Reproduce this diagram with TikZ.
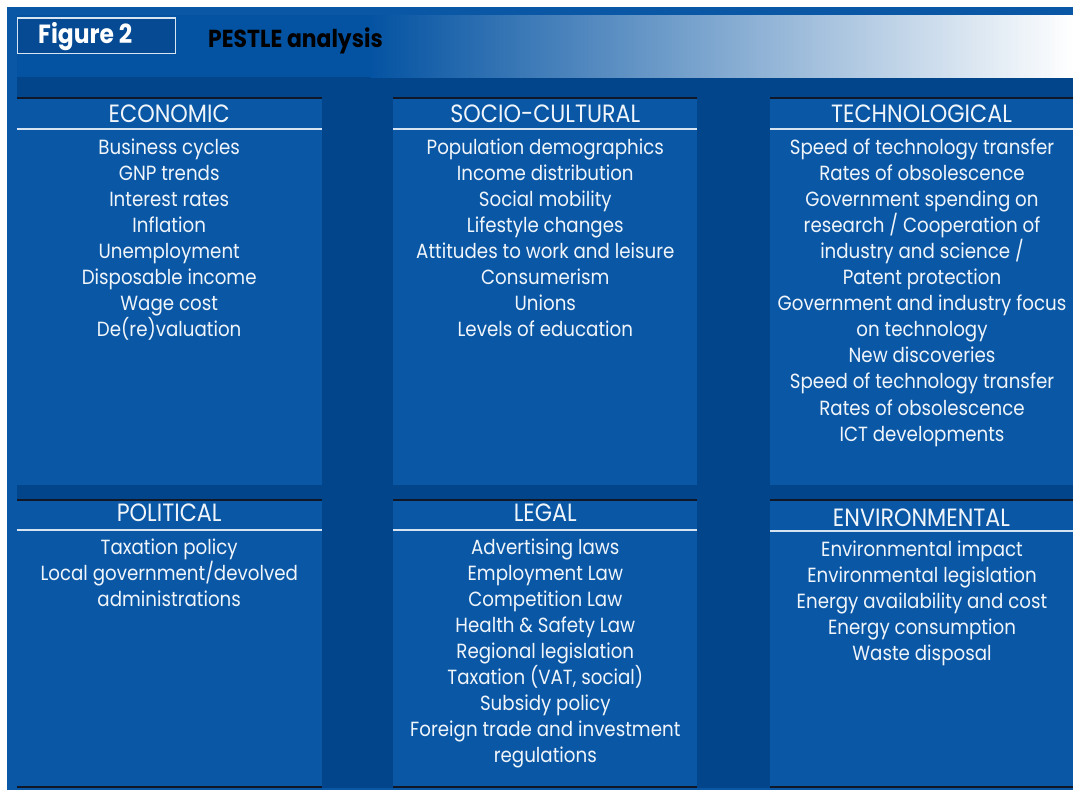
\documentclass[tikz,border=0pt]{standalone}
\usepackage{fontspec}
\newfontfamily\pestfont[FakeStretch=0.89]{Poppins}
\definecolor{frameblue}{RGB}{10,87,165}
\definecolor{bandblue}{RGB}{4,83,162}
\definecolor{gapblue}{RGB}{3,69,138}
\definecolor{panelblue}{RGB}{10,87,165}
\definecolor{boxblue}{RGB}{5,74,147}
\definecolor{boxline}{RGB}{215,228,242}
\definecolor{ruleline}{RGB}{16,24,40}
\definecolor{headline}{RGB}{214,228,242}
\definecolor{itemtext}{RGB}{240,245,250}

\tikzset{
  panelfill/.style={fill=panelblue},
  toprule/.style={draw=ruleline,line width=2pt},
  headrule/.style={draw=headline,line width=2pt},
  heading/.style={anchor=base,inner sep=0pt,text=itemtext,
    font=\pestfont\fontsize{25}{28}\selectfont},
  item/.style={anchor=base,inner sep=0pt,text=itemtext,
    font=\pestfont\fontsize{20.5}{26}\selectfont},
}

% #1 name, #2 left, #3 right, #4 top, #5 bottom, #6 head rule y, #7 title baseline, #8 title
\newcommand\pestpanel[8]{%
  \fill[panelfill] (#2,#4) rectangle (#3,#5);
  \draw[toprule] (#2,#4+1) -- (#3,#4+1);
  \draw[headrule] (#2,#6) -- (#3,#6);
  \node[heading] (#1-head) at ({(#2+#3)/2},#7) {#8};
}

\begin{document}
\begin{tikzpicture}[x=1pt,y=-1pt]
\useasboundingbox (0,0) rectangle (1073,790);
\fill[white] (0,0) rectangle (1073,790);
\fill[frameblue] (7,7) rectangle (1073,790);
\fill[gapblue] (16.7,77) rectangle (1073,788);

% title band with fade to white
\fill[bandblue] (16.7,15) rectangle (371,77);
\shade[left color=bandblue,right color=white] (370,15) rectangle (1073,77);

% figure label box and title
\draw[fill=boxblue,draw=boxline,line width=1.6pt] (17.5,18) rectangle (175.5,53.5);
\node[anchor=base west,inner sep=0pt,text=white,
  font=\pestfont\bfseries\fontsize{26.3}{30}\selectfont] (figlabel) at (38,43) {Figure 2};
\node[anchor=base west,inner sep=0pt,text=black,
  font=\pestfont\bfseries\fontsize{24.6}{30}\selectfont] (figtitle) at (208,47) {PESTLE analysis};

% upper row of panels
\pestpanel{eco}{16.7}{321.7}{97.3}{485}{129}{122.7}{ECONOMIC}
\pestpanel{soc}{393.3}{697.3}{97.3}{485}{129}{122.7}{SOCIO-CULTURAL}
\pestpanel{tec}{770}{1073}{97.3}{485}{129}{122.7}{TECHNOLOGICAL}

% lower row of panels
\pestpanel{pol}{16.7}{321.7}{499.3}{786}{529.5}{521.7}{POLITICAL}
\pestpanel{leg}{393.3}{697.3}{499.3}{786}{529.5}{521.7}{LEGAL}
\pestpanel{env}{770}{1073}{499.3}{786}{531}{526}{ENVIRONMENTAL}

% rules under the lower row
\foreach \xa/\xb in {16.7/321.7,393.3/697.3,770/1073}
  \draw[toprule] (\xa,787) -- (\xb,787);

% panel contents
\foreach \t [count=\i] in {Business cycles,GNP trends,Interest rates,Inflation,
  Unemployment,Disposable income,Wage cost,De(re)valuation}
  \node[item] (eco-\i) at (169.2,{154+26.1*(\i-1)}) {\t};

\foreach \t [count=\i] in {Population demographics,Income distribution,Social mobility,
  Lifestyle changes,Attitudes to work and leisure,Consumerism,Unions,Levels of education}
  \node[item] (soc-\i) at (545.3,{154+26.1*(\i-1)}) {\t};

\foreach \t [count=\i] in {Speed of technology transfer,Rates of obsolescence,
  Government spending on,research / Cooperation of,industry and science /,
  Patent protection,Government and industry focus,on technology,New discoveries,
  Speed of technology transfer,Rates of obsolescence,ICT developments}
  \node[item] (tec-\i) at (922,{154+26.1*(\i-1)}) {\t};

\foreach \t [count=\i] in {Taxation policy,Local government/devolved,administrations}
  \node[item] (pol-\i) at (169.2,{554+26*(\i-1)}) {\t};

\foreach \t [count=\i] in {Advertising laws,Employment Law,Competition Law,
  Health \& Safety Law,Regional legislation,{Taxation (VAT, social)},Subsidy policy,
  Foreign trade and investment,regulations}
  \node[item] (leg-\i) at (545.3,{554+26*(\i-1)}) {\t};

\foreach \t [count=\i] in {Environmental impact,Environmental legislation,
  Energy availability and cost,Energy consumption,Waste disposal}
  \node[item] (env-\i) at (922,{556+26*(\i-1)}) {\t};
\end{tikzpicture}
\end{document}
